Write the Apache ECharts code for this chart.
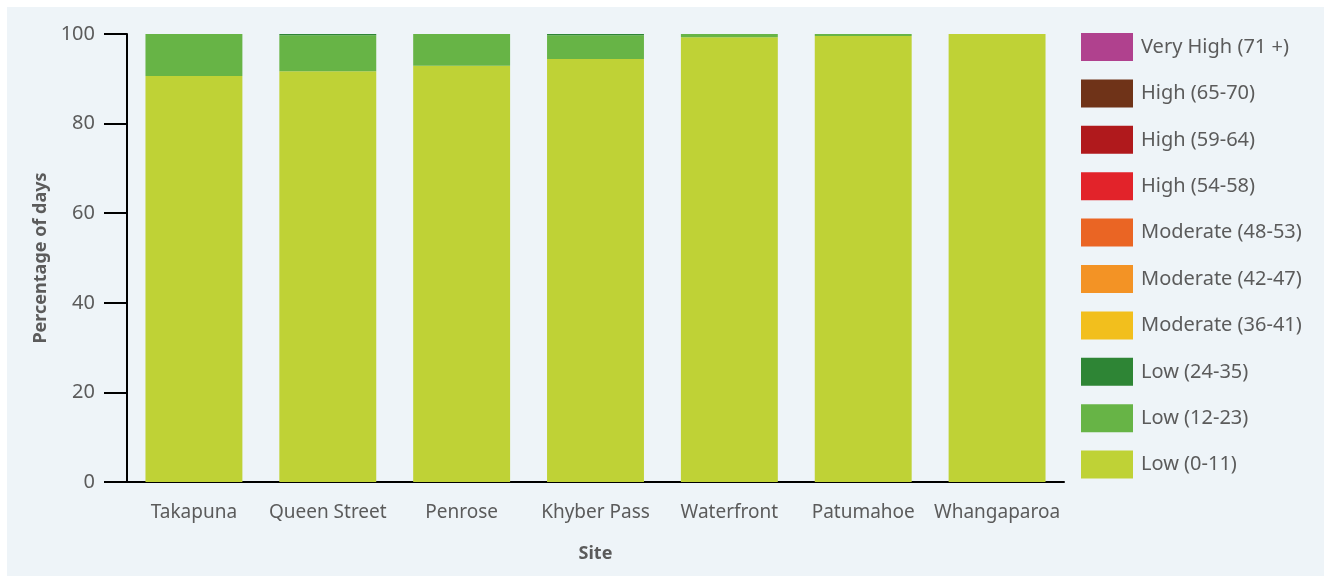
<!DOCTYPE html>
<html>
<head>
<meta charset="utf-8">
<script src="https://cdn.jsdelivr.net/npm/echarts@6/dist/echarts.min.js"></script>
<style>
  html, body { margin: 0; padding: 0; background: #ffffff; overflow: hidden; }
  #chart { position: absolute; left: 7px; top: 7px; width: 1317px; height: 569px; background: #eef4f8; }
</style>
</head>
<body>
<div id="chart"></div>
<script>
// sites along the x axis
const sites = ["Takapuna", "Queen Street", "Penrose", "Khyber Pass", "Waterfront", "Patumahoe", "Whangaparoa"]

// bands, bottom of the stack first
const bands = [
  "Low (0-11)", "Low (12-23)", "Low (24-35)",
  "Moderate (36-41)", "Moderate (42-47)", "Moderate (48-53)",
  "High (54-58)", "High (59-64)", "High (65-70)", "Very High (71 +)"
]
const bandColors = [
  "#bfd236", "#67b446", "#2e8535",
  "#f2bf1d", "#f39325", "#ea6524",
  "#e2232a", "#b0191c", "#6f3318", "#b0418e"
]

// percentage of days per band, one value per site
const low0 = [90.6, 91.7, 92.9, 94.4, 99.3, 99.55, 100]
const low12 = [9.4, 8.0, 7.1, 5.3, 0.7, 0.45, 0]
const low24 = [0, 0.3, 0, 0.3, 0, 0, 0]
const mod36 = [0, 0, 0, 0, 0, 0, 0]
const mod42 = [0, 0, 0, 0, 0, 0, 0]
const mod48 = [0, 0, 0, 0, 0, 0, 0]
const high54 = [0, 0, 0, 0, 0, 0, 0]
const high59 = [0, 0, 0, 0, 0, 0, 0]
const high65 = [0, 0, 0, 0, 0, 0, 0]
const veryHigh = [0, 0, 0, 0, 0, 0, 0]
const bandValues = [low0, low12, low24, mod36, mod42, mod48, high54, high59, high65, veryHigh]

const yTicks = [0, 20, 40, 60, 80, 100]

const textColor = "#5b5b5b"
const fontFamily = "'Noto Sans', 'Open Sans', sans-serif"

const chart = echarts.init(document.getElementById("chart"))
chart.setOption({
  animation: false,
  textStyle: { fontFamily: fontFamily },
  grid: { left: 120, right: 260, top: 27, bottom: 94 },
  legend: {
    orient: "vertical",
    left: 1074,
    top: 26,
    padding: 0,
    itemWidth: 52,
    itemHeight: 28,
    itemGap: 18.4,
    icon: "rect",
    data: bands.slice().reverse(),
    textStyle: { color: textColor, fontSize: 20, fontFamily: fontFamily, padding: [3, 0, 0, 3] }
  },
  xAxis: {
    type: "category",
    data: sites,
    name: "Site",
    nameLocation: "middle",
    nameGap: 63,
    nameTextStyle: { color: textColor, fontSize: 18, fontWeight: "bold" },
    axisLine: { lineStyle: { color: "#000", width: 2 } },
    axisTick: { length: 10, lineStyle: { color: "#000", width: 2 } },
    axisLabel: { color: textColor, fontSize: 19, margin: 21, interval: 0 }
  },
  yAxis: {
    type: "value",
    min: yTicks[0],
    max: yTicks[yTicks.length - 1],
    interval: 20,
    name: "Percentage of days",
    nameLocation: "middle",
    nameGap: 77,
    nameTextStyle: { color: textColor, fontSize: 18, fontWeight: "bold" },
    axisLine: { show: true, lineStyle: { color: "#000", width: 2 } },
    axisTick: { show: true, length: 23, lineStyle: { color: "#000", width: 2 } },
    axisLabel: { color: textColor, fontSize: 20, margin: 32 },
    splitLine: { show: false }
  },
  series: bands.map((name, i) => ({
    name: name,
    type: "bar",
    stack: "days",
    barCategoryGap: "27.6%",
    itemStyle: { color: bandColors[i] },
    data: bandValues[i]
  }))
})
</script>
</body>
</html>
